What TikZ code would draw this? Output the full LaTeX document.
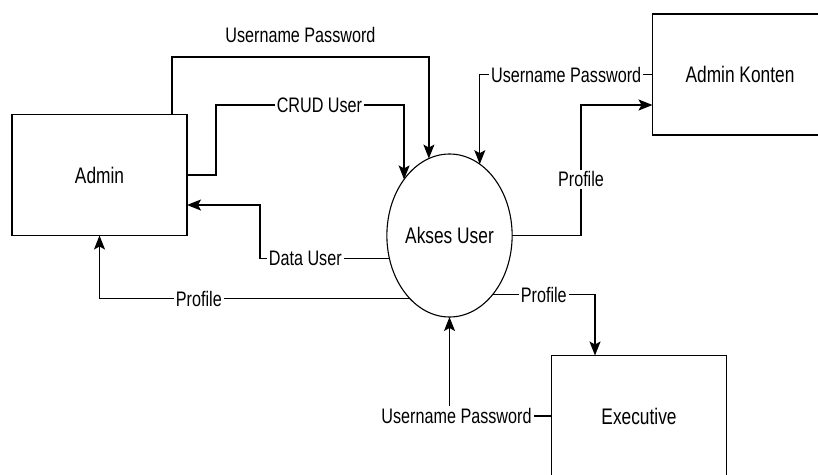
\documentclass[tikz,border=0pt]{standalone}
\usepackage{fontspec}
\setmainfont{Liberation Sans}[FakeStretch=0.77]
\usepackage{tikz}
\usetikzlibrary{arrows.meta, shapes.geometric}

\tikzset{
    flow/.style={draw=black, line width=1.3pt, -{Stealth[length=14pt, width=11pt, inset=3pt]}},
    lbl/.style={fill=white, inner sep=2pt, font=\fontsize{21}{25}\selectfont}
}

\begin{document}
\begin{tikzpicture}[x=1pt, y=-1pt]
\useasboundingbox (0,0) rectangle (818,474);
\clip (0,0) rectangle (818,474);

\begin{scope}[every node/.style={draw, line width=1.3pt, minimum width=175pt, minimum height=121pt,
    inner sep=0pt, outer sep=0pt, font=\fontsize{22.5}{27}\selectfont}]

    \node (admin) at (99.5, 175) {Admin};
    % process
    \node[ellipse, line width=1.1pt, minimum width=117pt, minimum height=163pt] (akses) at (449.5, 235.5) {Akses User};
    % right side
    \node (konten) at (740, 74.5) {Admin Konten};
    \node (exec) at (639, 416) {Executive};
\end{scope}

\coordinate (upA) at (172, 57);
\coordinate (crudA) at (216, 105);
\coordinate (dataA) at (260, 205);
\coordinate (profK) at (581, 105);
\coordinate (profE) at (595, 293);

\begin{scope}
    % Admin
    \draw [flow] (admin.north -| upA) -- (upA) -- node[above=10pt, font=\fontsize{21}{25}\selectfont] {Username Password} (akses.105 |- upA) -- (akses.105);
    \draw [flow] (admin.east) -| (crudA) -- node[lbl, pos=0.55] {CRUD User} (akses.129 |- crudA) -- (akses.129);
    \draw [flow] (akses.201) -- node[lbl, pos=0.65] {Data User} (akses.201 -| dataA) -- (dataA) -- (admin.east |- dataA);
    \draw [flow] (akses.238) -- node[lbl, pos=0.68] {Profile} (akses.238 -| admin.south) -- (admin.south);
    % Admin Konten
    \draw [flow] (konten.west) -- node[lbl] {Username Password} (konten.west -| akses.67) -- (akses.67);
    \draw [flow] (akses.east) -- (akses.east -| profK) -- node[lbl, pos=0.43] {Profile} (profK) -- (konten.west |- profK);
    % Executive
    \draw [flow] (akses.306) -- node[lbl] {Profile} (akses.306 -| profE) -- (profE |- exec.north);
    \draw [flow] (exec.west) -- (exec.west -| akses.south) node[lbl, xshift=7pt] {Username Password} -- (akses.south);
\end{scope}
\end{tikzpicture}
\end{document}
